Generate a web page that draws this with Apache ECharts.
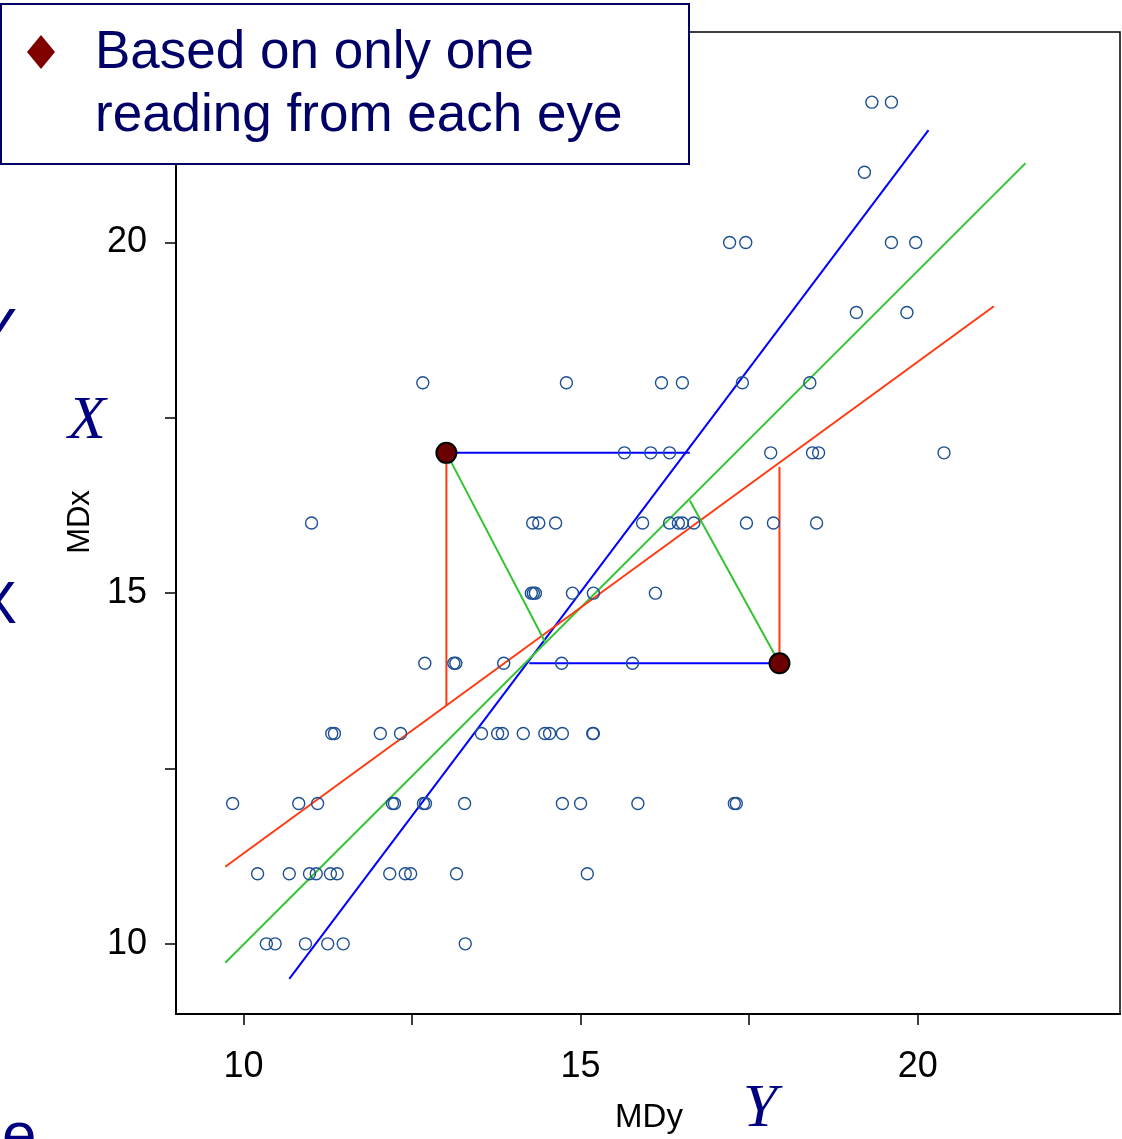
<!DOCTYPE html>
<html>
<head>
<meta charset="utf-8">
<script src="https://cdn.jsdelivr.net/npm/echarts@6/dist/echarts.min.js"></script>
<style>
html,body{margin:0;padding:0;background:#fff;}
#chart{width:1122px;height:1139px;}
</style>
</head>
<body>
<div id="chart"></div>
<script>
// MDx value of each row of readings, and the MDy values read in that row
const rowMDx = [22, 21, 20, 19, 18, 17, 16, 15, 14, 13, 12, 11, 10];
const rowMDy = [
  [19.32, 19.61],
  [19.21],
  [17.21, 17.45, 19.61, 19.97],
  [19.09, 19.84],
  [12.66, 14.79, 16.20, 16.51, 17.40, 18.40],
  [15.65, 16.04, 16.32, 17.82, 18.44, 18.53, 20.39],
  [11.01, 14.29, 14.38, 14.63, 15.92, 16.32, 16.45, 16.51, 16.68, 17.46, 17.86, 18.50],
  [14.27, 14.30, 14.33, 14.88, 15.19, 16.11],
  [12.69, 13.12, 13.15, 13.86, 14.72, 15.77],
  [11.31, 11.35, 12.03, 12.33, 13.53, 13.77, 13.84, 14.15, 14.47, 14.54, 14.73, 15.18, 15.19],
  [9.84, 10.82, 11.10, 12.21, 12.24, 12.67, 12.70, 13.28, 14.73, 15.00, 15.85, 17.28, 17.31],
  [10.21, 10.68, 10.98, 11.08, 11.29, 11.39, 12.17, 12.40, 12.48, 13.16, 15.10],
  [10.34, 10.47, 10.92, 11.25, 11.48, 13.29]
];
// two highlighted readings [MDy, MDx]
const highlighted = [[13.01, 17], [17.95, 14]];
// fitted lines (end points [MDy, MDx])
const blueLine  = [[10.68, 9.50], [20.16, 21.60]];
const greenLine = [[9.73, 9.73], [21.60, 21.13]];
const redLine   = [[9.73, 11.10], [21.13, 19.09]];
// residual segments from the highlighted readings
const blueSegs  = [[[13.01, 17], [16.62, 17]], [[14.24, 14], [17.95, 14]]];
const redSegs   = [[[13.01, 17], [13.01, 13.40]], [[17.95, 14], [17.95, 16.80]]];
const greenSegs = [[[13.01, 17], [14.47, 14.31]], [[17.95, 14], [16.62, 16.32]]];
// axis ticks and labels
const tickValues = [10, 12.5, 15, 17.5, 20];
const labelValues = [10, 15, 20];
const legendText = 'Based on only one\nreading from each eye';

const points = [];
rowMDx.forEach((yv, i) => rowMDy[i].forEach(xv => points.push([xv, yv])));

const chart = echarts.init(document.getElementById('chart'), null, {renderer: 'canvas'});

function seg(data, color, z) {
  return {type: 'line', data: data, symbol: 'none', silent: true, z: z,
    lineStyle: {color: color, width: 2, opacity: 1}, animation: false};
}

const series = [
  seg(blueLine, '#0000ff', 3),
  seg(greenLine, '#33c433', 3),
  seg(redLine, '#ff3a10', 3)
];
blueSegs.forEach(s => series.push(seg(s, '#0000ff', 3)));
redSegs.forEach(s => series.push(seg(s, '#ff3a10', 3)));
greenSegs.forEach(s => series.push(seg(s, '#33c433', 3)));
series.push({
  type: 'scatter', data: points, symbol: 'circle', symbolSize: 12, z: 4, silent: true,
  itemStyle: {color: 'rgba(0,0,0,0)', borderColor: '#1d4f93', borderWidth: 1.4, opacity: 1}
});
series.push({
  type: 'scatter', data: highlighted, symbol: 'circle', symbolSize: 20, z: 5, silent: true,
  itemStyle: {color: '#6b0000', borderColor: '#000', borderWidth: 2, opacity: 1}
});

const axisCommon = {
  type: 'value', min: 9, max: 23,
  splitLine: {show: false},
  axisLine: {show: true, onZero: false, lineStyle: {color: '#000', width: 2}},
  axisTick: {show: true, inside: false, length: 11, customValues: tickValues, lineStyle: {color: '#000', width: 1.5}},
  axisLabel: {customValues: labelValues, color: '#000', fontSize: 36, fontFamily: 'Liberation Sans, Arial, sans-serif'}
};

chart.setOption({
  animation: false,
  backgroundColor: '#fff',
  grid: {left: 176, top: 32, width: 944, height: 982, show: true, borderColor: '#000', borderWidth: 1.5, backgroundColor: 'transparent'},
  xAxis: Object.assign({}, axisCommon, {axisLabel: Object.assign({}, axisCommon.axisLabel, {margin: 35})}),
  yAxis: Object.assign({}, axisCommon, {axisLabel: Object.assign({}, axisCommon.axisLabel, {margin: 29})}),
  series: series,
  graphic: [
    {type: 'text', z: 1, style: {x: 17, y: 333, text: 'Y', fill: '#000080', font: '60px "Liberation Sans", Arial', textAlign: 'right', textVerticalAlign: 'middle'}},
    {type: 'text', z: 1, style: {x: 17, y: 606, text: 'X', fill: '#000080', font: '60px "Liberation Sans", Arial', textAlign: 'right', textVerticalAlign: 'middle'}},
    {type: 'text', z: 1, style: {x: 2, y: 1138, text: 'e', fill: '#000080', font: '62px "Liberation Sans", Arial', textAlign: 'left', textVerticalAlign: 'middle'}},
    {type: 'text', z: 10, style: {x: 87, y: 422, text: 'X', fill: '#000080', font: 'italic 62px "Liberation Serif", "Times New Roman", serif', textAlign: 'center', textVerticalAlign: 'middle'}},
    {type: 'text', z: 10, style: {x: 760, y: 1110, text: 'Y', fill: '#000080', font: 'italic 62px "Liberation Serif", "Times New Roman", serif', textAlign: 'center', textVerticalAlign: 'middle'}},
    {type: 'text', z: 10, style: {x: 649, y: 1118, text: 'MDy', fill: '#000', font: '33px "Liberation Sans", Arial', textAlign: 'center', textVerticalAlign: 'middle'}},
    {type: 'text', z: 10, x: 80, y: 522, rotation: Math.PI / 2, style: {x: 0, y: 0, text: 'MDx', fill: '#000', font: '31px "Liberation Sans", Arial', textAlign: 'center', textVerticalAlign: 'middle'}},
    {type: 'rect', z: 20, shape: {x: 1, y: 4, width: 688, height: 160}, style: {fill: '#fff', stroke: '#000066', lineWidth: 2}},
    {type: 'polygon', z: 21, shape: {points: [[41, 35], [55, 52], [41, 69], [27, 52]]}, style: {fill: '#800000'}},
    {type: 'text', z: 21, style: {x: 95, y: 22, text: legendText, fill: '#000066', font: '53px "Liberation Sans", Arial', lineHeight: 63, textAlign: 'left', textVerticalAlign: 'top'}}
  ]
});
</script>
</body>
</html>
